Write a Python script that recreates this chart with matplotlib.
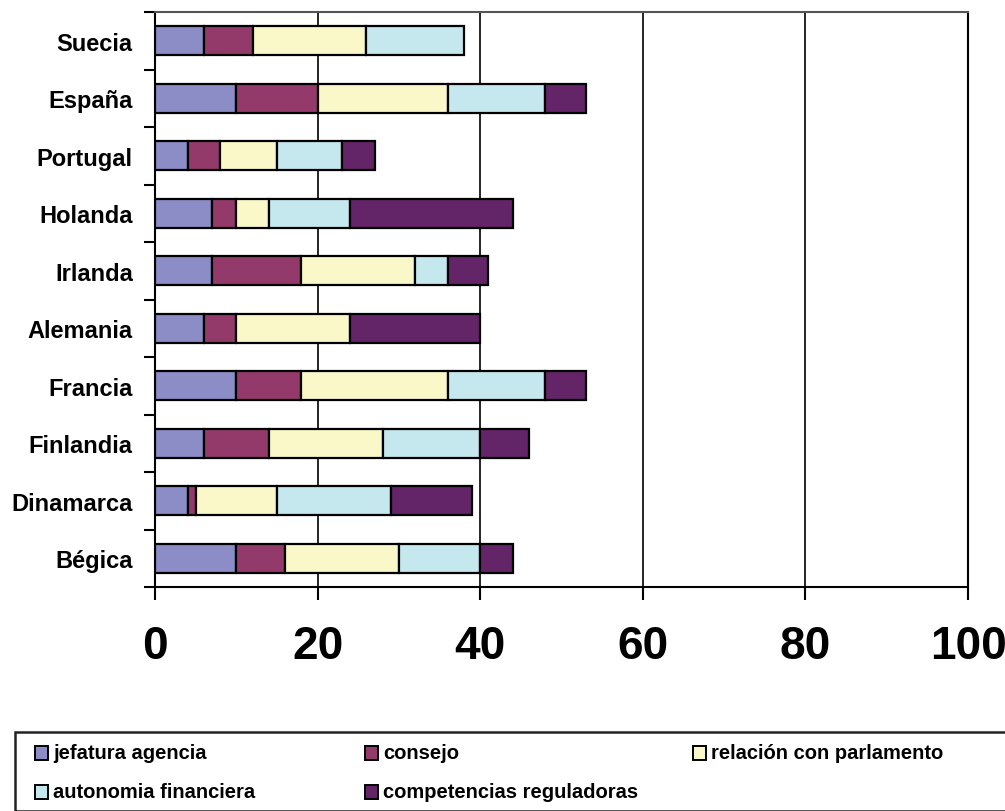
import matplotlib.pyplot as plt
from matplotlib.patches import Rectangle
import numpy as np

plt.rcParams['font.family'] = ['Liberation Sans', 'DejaVu Sans']

# countries, bottom to top
paises = ["Bégica", "Dinamarca", "Finlandia", "Francia", "Alemania",
          "Irlanda", "Holanda", "Portugal", "España", "Suecia"]

jefatura = [10, 4, 6, 10, 6, 7, 7, 4, 10, 6]
consejo = [6, 1, 8, 8, 4, 11, 3, 4, 10, 6]
relacion = [14, 10, 14, 18, 14, 14, 4, 7, 16, 14]
autonomia = [10, 14, 12, 12, 0, 4, 10, 8, 12, 12]
competencias = [4, 10, 6, 5, 16, 5, 20, 4, 5, 0]

series = [jefatura, consejo, relacion, autonomia, competencias]
nombres = ["jefatura agencia", "consejo", "relación con parlamento",
           "autonomia financiera", "competencias reguladoras"]
colores = ["#8C8CC6", "#943A6B", "#FAF8C8", "#C5E8EE", "#632567"]

fig = plt.figure(figsize=(10.05, 8.12), dpi=100)
ax = fig.add_axes([155 / 1005, 1 - 588 / 812, 813 / 1005, 575 / 812])

y = np.arange(len(paises))
left = np.zeros(len(paises))
for vals, col in zip(series, colores):
    vals = np.array(vals, dtype=float)
    mask = vals > 0
    ax.barh(y[mask], vals[mask], left=left[mask], height=0.5, color=col,
            edgecolor="black", linewidth=1.6, zorder=3)
    left += vals

ax.set_xlim(0, 100)
ax.set_ylim(-0.5, len(paises) - 0.5)
ax.set_xticks([0, 20, 40, 60, 80, 100])
ax.set_xticklabels(["0", "20", "40", "60", "80", "100"],
                   fontsize=33, fontweight="bold")
ax.tick_params(axis="x", direction="out", length=9, width=1.5, pad=18)
ax.set_yticks(y)
ax.set_yticklabels(paises, fontsize=17, fontweight="bold")
ax.tick_params(axis="y", which="major", length=0, pad=16)
ax.set_yticks(np.arange(-0.5, len(paises), 1.0), minor=True)
ax.tick_params(axis="y", which="minor", direction="out", length=8, width=1.5)
ax.grid(axis="x", color="black", linewidth=1.2, zorder=0)
for s in ["left", "bottom", "right"]:
    ax.spines[s].set_linewidth(1.5)
ax.spines["top"].set_color("#555555")
ax.spines["top"].set_linewidth(1.5)

# legend box
fig.patches.append(Rectangle((15 / 1005, 0), 1.1, 1 - 733 / 812,
                             transform=fig.transFigure, fill=False,
                             edgecolor="#222222", linewidth=1.8))
pos = [(35, 754), (365, 754), (693, 754), (35, 793), (365, 793)]
for (px, py), nom, col in zip(pos, nombres, colores):
    fig.patches.append(Rectangle((px / 1005, 1 - (py + 7) / 812), 13 / 1005, 14 / 812,
                                 transform=fig.transFigure, facecolor=col,
                                 edgecolor="black", linewidth=1.4))
    fig.text((px + 18) / 1005, 1 - py / 812, nom, fontsize=14.5,
             fontweight="bold", va="center", ha="left")

fig.savefig("out.png", dpi=100)
